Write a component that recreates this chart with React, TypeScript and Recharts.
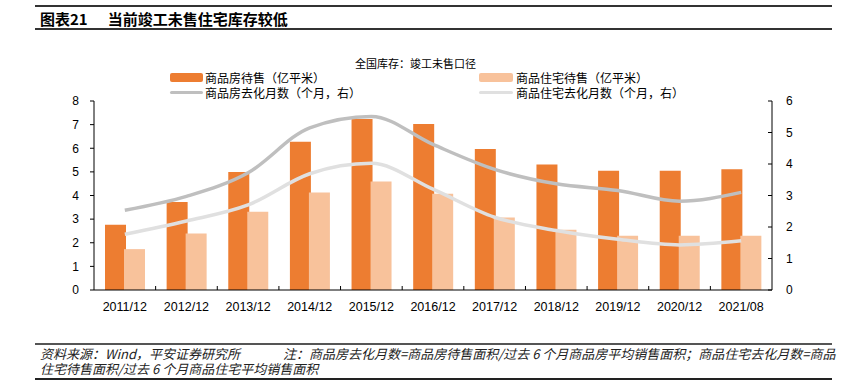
import React from 'react';
import { ComposedChart, Bar, Line, XAxis, YAxis } from 'recharts';

const categories = ['2011/12', '2012/12', '2013/12', '2014/12', '2015/12', '2016/12', '2017/12', '2018/12', '2019/12', '2020/12', '2021/08'];
const commercialStock = [2.76, 3.72, 5.0, 6.27, 7.24, 7.03, 5.97, 5.31, 5.05, 5.05, 5.11];
const residentialStock = [1.73, 2.39, 3.31, 4.13, 4.59, 4.07, 3.07, 2.55, 2.3, 2.3, 2.3];
const commercialMonths = [2.53, 2.97, 3.72, 5.15, 5.51, 4.62, 3.83, 3.37, 3.16, 2.82, 3.1];
const residentialMonths = [1.77, 2.19, 2.7, 3.69, 4.02, 3.2, 2.31, 1.89, 1.61, 1.43, 1.56];
const leftTicks = [0, 1, 2, 3, 4, 5, 6, 7, 8];
const rightTicks = [0, 1, 2, 3, 4, 5, 6];

const seriesNames = {
  cs: '商品房待售（亿平米）',
  rs: '商品住宅待售（亿平米）',
  cm: '商品房去化月数（个月，右）',
  rm: '商品住宅去化月数（个月，右）',
};

const data = categories.map((name, i) => ({
  name,
  cs: commercialStock[i],
  rs: residentialStock[i],
  cm: commercialMonths[i],
  rm: residentialMonths[i],
}));

const FONT = '"Liberation Sans", Arial, "Noto Sans CJK SC", sans-serif';
const CJK = '"Noto Sans CJK SC", "Liberation Sans", sans-serif';
const HALF_BAND = 678 / 11 / 2;

const XTick = (props: any) => {
  const { x, y, payload, index } = props;
  return (
    <g>
      <text x={x} y={y} dy="0.71em" textAnchor="middle" fontSize={12.5} fill="#000" fontFamily={FONT}>
        {payload.value}
      </text>
      {index > 0 && (
        <line x1={x - HALF_BAND} x2={x - HALF_BAND} y1={y - 12} y2={y - 16} stroke="#000" strokeWidth={1} />
      )}
    </g>
  );
};

const RightTick = (props: any) => {
  const { x, y, payload } = props;
  return (
    <g>
      <text x={x} y={y} dy="0.355em" textAnchor="start" fontSize={12} fill="#000" fontFamily={FONT}>
        {payload.value}
      </text>
      <line x1={x - 18} x2={x - 14} y1={y} y2={y} stroke="#000" strokeWidth={1} />
    </g>
  );
};

const abs = (s: React.CSSProperties): React.CSSProperties => ({ position: 'absolute', ...s });

export default function App() {
  return (
    <div style={{ position: 'absolute', left: 0, top: 0, width: 852, height: 392, background: '#fff', overflow: 'hidden', fontFamily: CJK }}>
      <div style={abs({ left: 35, top: 5, width: 797, height: 2, background: '#333' })} />
      <div style={abs({ left: 40, top: 10, fontSize: 15, fontWeight: 'bold', lineHeight: '18px', color: '#000', whiteSpace: 'nowrap', fontFamily: CJK })}>
        <span>图表21</span>
        <span style={{ marginLeft: 20 }}>当前竣工未售住宅库存较低</span>
      </div>
      <div style={abs({ left: 35, top: 28, width: 797, height: 2, background: '#333' })} />

      <div style={abs({ left: 355, top: 56, fontSize: 11, lineHeight: '14px', color: '#000', whiteSpace: 'nowrap' })}>全国库存：竣工未售口径</div>

      <div style={abs({ left: 170, top: 73, width: 33, height: 9, background: '#ED7D31', borderRadius: 2 })} />
      <div style={abs({ left: 205, top: 70, fontSize: 12, lineHeight: '15px', color: '#000', whiteSpace: 'nowrap' })}>{seriesNames.cs}</div>
      <div style={abs({ left: 479, top: 73, width: 34, height: 9, background: '#F8C29B', borderRadius: 2 })} />
      <div style={abs({ left: 516, top: 70, fontSize: 12, lineHeight: '15px', color: '#000', whiteSpace: 'nowrap' })}>{seriesNames.rs}</div>
      <div style={abs({ left: 170, top: 91, width: 33, height: 3, background: '#BFBFBF', borderRadius: 2 })} />
      <div style={abs({ left: 205, top: 85, fontSize: 12, lineHeight: '15px', color: '#000', whiteSpace: 'nowrap' })}>{seriesNames.cm}</div>
      <div style={abs({ left: 479, top: 91, width: 34, height: 3, background: '#E0E0E0', borderRadius: 2 })} />
      <div style={abs({ left: 516, top: 85, fontSize: 12, lineHeight: '15px', color: '#000', whiteSpace: 'nowrap' })}>{seriesNames.rm}</div>

      <div style={abs({ left: 0, top: 0 })}>
        <ComposedChart
          width={852}
          height={330}
          data={data}
          margin={{ top: 101, right: 40, bottom: 10, left: 54 }}
          barGap={-2}
        >
          <XAxis
            dataKey="name"
            xAxisId={0}
            interval={0}
            tickSize={0}
            tickMargin={12}
            height={30}
            axisLine={{ stroke: '#000' }}
            tickLine={false}
            tick={<XTick />}
          />
          <YAxis
            yAxisId="left"
            orientation="left"
            domain={[0, 8]}
            ticks={leftTicks}
            interval={0}
            width={40}
            tickSize={4}
            tickMargin={11}
            axisLine={{ stroke: '#000' }}
            tickLine={{ stroke: '#000' }}
            tick={{ fill: '#000', fontSize: 12, fontFamily: FONT }}
          />
          <YAxis
            yAxisId="right"
            orientation="right"
            domain={[0, 6]}
            ticks={rightTicks}
            interval={0}
            width={40}
            tickSize={0}
            tickMargin={14}
            axisLine={{ stroke: '#000' }}
            tickLine={false}
            tick={<RightTick />}
          />
          <Bar yAxisId="left" dataKey="cs" name={seriesNames.cs} fill="#ED7D31" barSize={21} isAnimationActive={false} />
          <Bar yAxisId="left" dataKey="rs" name={seriesNames.rs} fill="#F8C29B" barSize={21} isAnimationActive={false} />
          <Line yAxisId="right" type="monotone" dataKey="rm" name={seriesNames.rm} stroke="#E0E0E0" strokeWidth={3.5} dot={false} activeDot={false} isAnimationActive={false} />
          <Line yAxisId="right" type="monotone" dataKey="cm" name={seriesNames.cm} stroke="#BFBFBF" strokeWidth={3.5} dot={false} activeDot={false} isAnimationActive={false} />
        </ComposedChart>
      </div>

      <div style={abs({ left: 35, top: 343, width: 797, height: 2, background: '#555' })} />
      <div style={abs({ left: 40, top: 346, fontSize: 13, lineHeight: '15px', fontStyle: 'italic', color: '#222', whiteSpace: 'nowrap' })}>资料来源：Wind，平安证券研究所</div>
      <div style={abs({ left: 283, top: 346, fontSize: 13, lineHeight: '15px', fontStyle: 'italic', color: '#222', whiteSpace: 'nowrap' })}>注：商品房去化月数=商品房待售面积/过去 6 个月商品房平均销售面积；商品住宅去化月数=商品</div>
      <div style={abs({ left: 40, top: 361, fontSize: 13, lineHeight: '15px', fontStyle: 'italic', color: '#222', whiteSpace: 'nowrap' })}>住宅待售面积/过去 6 个月商品住宅平均销售面积</div>
      <div style={abs({ left: 35, top: 378, width: 797, height: 2, background: '#222' })} />
    </div>
  );
}
